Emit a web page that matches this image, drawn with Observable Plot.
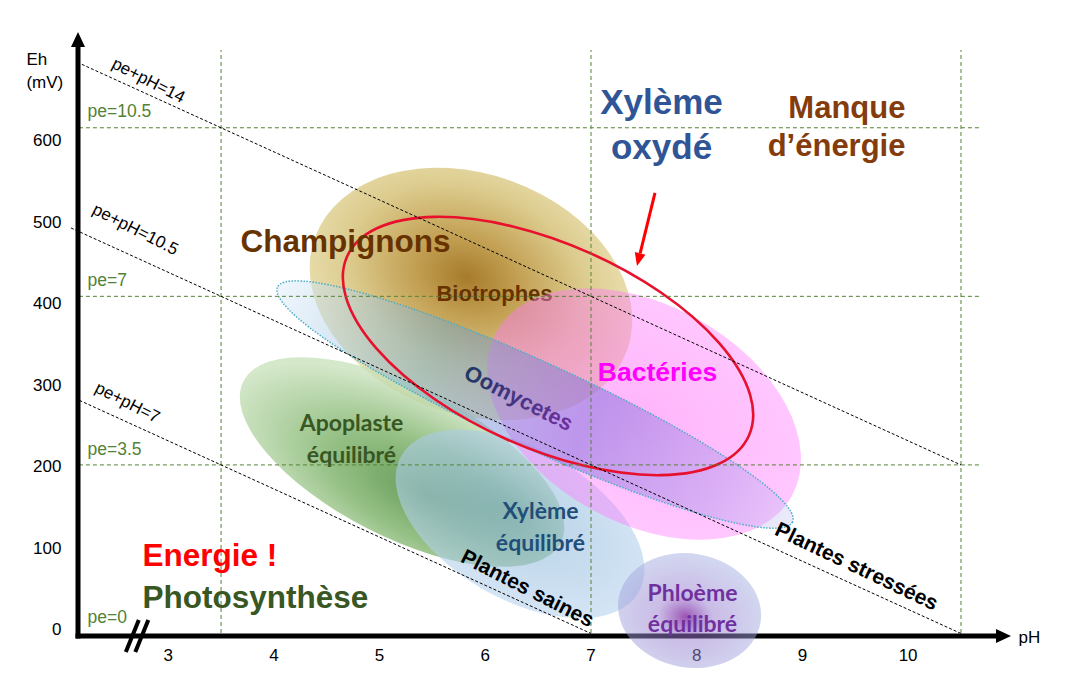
<!DOCTYPE html>
<html>
<head>
<meta charset="utf-8">
<script src="https://cdn.jsdelivr.net/npm/d3@7"></script>
<script src="https://cdn.jsdelivr.net/npm/@observablehq/plot@0.6"></script>
<style>
  html, body { margin: 0; padding: 0; background: #fff; }
  #chart svg { display: block; }
</style>
</head>
<body>
<div id="chart"></div>
<script>
// ---------- data ----------
const MV_PER_PE = 59.16;              // Eh (mV) per pe unit
const PH_MIN = 2.1514, PH_MAX = 10.978;
const EH_MIN = -3.7, EH_MAX = 738.2;
const BREAK_PH = 2.71;

const ehTicks = [0, 100, 200, 300, 400, 500, 600];
const phTicks = [3, 4, 5, 6, 7, 8, 9, 10];

const peLines = [3.5, 7, 10.5];
const peLabelValues = [0, 3.5, 7, 10.5];
const peLabels = ["pe=0", "pe=3.5", "pe=7", "pe=10.5"];
const phLines = [3.5, 7, 10.5];

const diagSums = [14, 10.5, 7];
const diagStartPH = [2.14, 2.08, 2.16];
const diagEndPH = [10.5, 10.5, 7];
const diagLabels = ["pe+pH=14", "pe+pH=10.5", "pe+pH=7"];
const diagLabelPH = [2.814, 2.691, 2.615];
const diagLabelEh = [679.3, 496.3, 283.7];

// zones (ellipses): centre, semi-axes (pH units / mV units), tilt
const zoneNames = ["Champignons", "Apoplaste", "XylemeEq", "Bacteries", "Oomycetes", "XylemeOx", "Phloeme"];
const zonePH    = [5.869, 5.217, 6.333, 7.506, 6.475, 6.598, 7.937];
const zoneEh    = [416.4, 210.0, 133.9, 269.0, 280.6, 352.5, 27.6];
const zoneRPH   = [1.570, 1.684, 1.296, 1.599, 2.677, 2.081, 0.681];
const zoneREh   = [147.4, 92.1, 92.1, 133.9, 52.8, 125.3, 70.0];
const zoneAngle = [20, 27, 30, 29, 24.5, 24, 10];

// annotation labels
const labelText = ["Champignons", "Biotrophes", "Bactéries", "Oomycetes",
  "Apoplaste\néquilibré", "Xylème\néquilibré", "Phloème\néquilibré",
  "Xylème\noxydé", "Manque\nd’énergie", "Energie !", "Photosynthèse",
  "Plantes saines", "Plantes stressées"];
const labelPH = [4.677, 6.087, 7.629, 6.314, 4.734, 6.522, 7.960, 7.667, 9.975, 2.757, 2.757, 6.399, 9.512];
const labelEh = [481.5, 417.6, 320.6, 288.7, 242.0, 133.9, 33.2, 628.0, 624.5, 95.8, 44.2, 55.3, 82.3];

const arrowFrom = [7.610, 540.5];
const arrowTo = [7.440, 450.8];

// ---------- styles ----------
const FONT = "'Liberation Sans', Arial, Helvetica, sans-serif";
const FONT_C = "Lato, 'Liberation Sans', Arial, sans-serif";
const GRID = "#548235";

const zoneStyle = {
  Champignons: {fill: "url(#gTan)"},
  Apoplaste: {fill: "url(#gGreen)"},
  XylemeEq: {fill: "url(#gBlue)"},
  Bacteries: {fill: "url(#gPink)"},
  Oomycetes: {fill: "url(#gOomy)", stroke: "#4bacc6", sw: 1.5, dash: "1.5,1.5"},
  XylemeOx: {fill: "none", stroke: "#e8112d", sw: 2.6},
  Phloeme: {fill: "url(#gPhl)"}
};

const gradients = [
  {id: "gTan", type: "radial", cx: 0.47, cy: 0.44, r: 0.56, stops: [[0, "#a77b2b", 1], [0.3, "#c3a155", 1], [0.65, "#dccb8d", 1], [1, "#ece3b7", 1]]},
  {id: "gGreen", type: "radial", cx: 0.6, cy: 0.62, r: 0.62, stops: [[0, "rgb(85,145,70)", 0.9], [0.5, "rgb(125,178,105)", 0.8], [1, "rgb(198,224,184)", 0.75]]},
  {id: "gBlue", type: "radial", cx: 0.45, cy: 0.45, r: 0.55, stops: [[0, "rgb(130,175,212)", 0.6], [1, "rgb(182,210,237)", 0.6]]},
  {id: "gPink", type: "radial", cx: 0.5, cy: 0.5, r: 0.5, stops: [[0, "rgb(255,90,245)", 0.45], [1, "rgb(255,120,255)", 0.42]]},
  {id: "gOomy", type: "linear", stops: [[0, "rgb(225,238,250)", 0.5], [0.3, "rgb(105,165,210)", 0.45], [0.6, "rgb(110,100,215)", 0.45], [0.85, "rgb(150,140,230)", 0.35], [1, "rgb(190,190,240)", 0.3]]},
  {id: "gPhl", type: "radial", cx: 0.48, cy: 0.56, r: 0.55, stops: [[0, "rgb(130,40,160)", 0.8], [0.35, "rgb(150,120,205)", 0.5], [1, "rgb(165,175,225)", 0.5]]},
  {id: "gOomText", type: "linear", stops: [[0, "#1f3864", 1], [1, "#6f30a0", 1]]}
];

// ---------- custom marks ----------
const defsMark = () => {
  const g = d3.create("svg:g");
  const defs = g.append("defs");
  for (const gr of gradients) {
    const el = defs.append(gr.type === "radial" ? "radialGradient" : "linearGradient").attr("id", gr.id);
    if (gr.type === "radial") el.attr("cx", gr.cx).attr("cy", gr.cy).attr("r", gr.r);
    else el.attr("x1", 0).attr("y1", 0).attr("x2", 1).attr("y2", 0);
    for (const [o, c, a] of gr.stops) el.append("stop").attr("offset", o).attr("stop-color", c).attr("stop-opacity", a);
  }
  return g.node();
};

function zoneMark(list) {
  return (index, scales) => {
    const {x, y} = scales;
    const g = d3.create("svg:g");
    for (const name of list) {
      const i = zoneNames.indexOf(name);
      const cx = x(zonePH[i]), cy = y(zoneEh[i]);
      const rx = Math.abs(x(zonePH[i] + zoneRPH[i]) - cx);
      const ry = Math.abs(y(zoneEh[i] + zoneREh[i]) - cy);
      const st = zoneStyle[name];
      const e = g.append("ellipse").attr("cx", 0).attr("cy", 0).attr("rx", rx).attr("ry", ry)
        .attr("transform", `translate(${cx},${cy}) rotate(${zoneAngle[i]})`)
        .attr("fill", st.fill).attr("stroke", st.stroke || "none");
      if (st.sw) e.attr("stroke-width", st.sw);
      if (st.dash) e.attr("stroke-dasharray", st.dash);
    }
    return g.node();
  };
}

const axesMark = (index, scales) => {
  const {x, y} = scales;
  const g = d3.create("svg:g");
  const x0 = x(PH_MIN), x1 = x(PH_MAX), y0 = y(EH_MIN), y1 = y(EH_MAX);
  g.append("line").attr("x1", x0).attr("y1", y0 + 2.5).attr("x2", x0).attr("y2", y1 + 12)
    .attr("stroke", "#000").attr("stroke-width", 5);
  g.append("path").attr("d", `M${x0 - 7},${y1 + 15}L${x0},${y1}L${x0 + 7},${y1 + 15}Z`).attr("fill", "#000");
  g.append("line").attr("x1", x0 - 2.5).attr("y1", y0).attr("x2", x1 - 12).attr("y2", y0)
    .attr("stroke", "#000").attr("stroke-width", 5);
  g.append("path").attr("d", `M${x1 - 15},${y0 - 7}L${x1},${y0}L${x1 - 15},${y0 + 7}Z`).attr("fill", "#000");
  const bx = x(BREAK_PH);
  for (const off of [-4.75, 4.75]) {
    g.append("line").attr("x1", bx + off + 6.5).attr("y1", y0 - 16).attr("x2", bx + off - 6.5).attr("y2", y0 + 16)
      .attr("stroke", "#000").attr("stroke-width", 4);
  }
  return g.node();
};

const arrowMark = (index, scales) => {
  const {x, y} = scales;
  const g = d3.create("svg:g");
  const ax = x(arrowFrom[0]), ay = y(arrowFrom[1]), bx = x(arrowTo[0]), by = y(arrowTo[1]);
  const dx = bx - ax, dy = by - ay, L = Math.hypot(dx, dy), ux = dx / L, uy = dy / L;
  const hl = 13, hw = 5.5;
  const baseX = bx - ux * hl, baseY = by - uy * hl;
  g.append("line").attr("x1", ax).attr("y1", ay).attr("x2", baseX).attr("y2", baseY)
    .attr("stroke", "#ff0000").attr("stroke-width", 3);
  g.append("path").attr("d", `M${bx},${by}L${baseX - uy * hw},${baseY + ux * hw}L${baseX + uy * hw},${baseY - ux * hw}Z`)
    .attr("fill", "#ff0000");
  return g.node();
};

const T = (i, o) => Plot.text([i], {
  x: j => labelPH[j], y: j => labelEh[j], text: j => labelText[j],
  fontFamily: FONT, fontWeight: "bold", ...o
});

// ---------- plot ----------
const chart = Plot.plot({
  width: 1066, height: 685,
  marginLeft: 78, marginRight: 55, marginTop: 32, marginBottom: 49,
  x: {domain: [PH_MIN, PH_MAX], axis: null},
  y: {domain: [EH_MIN, EH_MAX], axis: null},
  style: {background: "#fff", overflow: "visible"},
  marks: [
    defsMark,
    zoneMark(["Champignons"]),
    T(1, {fill: "#663300", fontSize: 22}),
    zoneMark(["Apoplaste", "XylemeEq", "Bacteries", "Oomycetes"]),
    T(3, {fill: "url(#gOomText)", fontSize: 22, rotate: 27}),
    zoneMark(["XylemeOx"]),
    // grid
    Plot.ruleX(phLines, {x: d => d, y1: () => 0, y2: () => 716, stroke: GRID, strokeDasharray: "4,3", strokeWidth: 1}),
    Plot.ruleY(peLines, {y: d => d * MV_PER_PE, x1: () => 2.16, x2: () => 10.68, stroke: GRID, strokeDasharray: "4,3", strokeWidth: 1}),
    Plot.link(diagSums, {
      x1: (d, i) => diagStartPH[i], y1: (d, i) => (d - diagStartPH[i]) * MV_PER_PE,
      x2: (d, i) => diagEndPH[i], y2: (d, i) => (d - diagEndPH[i]) * MV_PER_PE,
      stroke: "#000", strokeDasharray: "3,2", strokeWidth: 1
    }),
    axesMark,
    // tick labels
    Plot.text(ehTicks, {x: () => 1.99, y: d => d, text: d => String(d), textAnchor: "end", dy: -4, fontSize: 17, fontFamily: FONT, fill: "#000"}),
    Plot.text(phTicks, {x: d => d, y: () => -27, text: d => String(d), fontSize: 17, fontFamily: FONT, fill: "#000"}),
    Plot.text(["Eh\n(mV)"], {x: () => 1.659, y: () => 692.8, text: d => d, textAnchor: "start", lineHeight: 1.3, fontSize: 17, fontFamily: FONT, fill: "#000"}),
    Plot.text(["pH"], {x: () => 11.045, y: () => -4.9, text: d => d, textAnchor: "start", fontSize: 17, fontFamily: FONT, fill: "#000"}),
    Plot.text(peLabelValues, {x: () => 2.237, y: d => d * MV_PER_PE, text: (d, i) => peLabels[i], textAnchor: "start", dy: -16, fontSize: 17.5, fontFamily: FONT, fill: GRID}),
    Plot.text(diagLabels, {x: (d, i) => diagLabelPH[i], y: (d, i) => diagLabelEh[i], text: d => d, rotate: 27, fontSize: 17, fontFamily: FONT, fill: "#000"}),
    // phloem on top of axis
    zoneMark(["Phloeme"]),
    // labels
    T(0, {fill: "#663300", fontSize: 31.5}),
    T(2, {fill: "#ff00ff", fontSize: 26.5}),
    T(4, {fill: "#385723", fontSize: 23, fontFamily: FONT_C, lineHeight: 1.4}),
    T(5, {fill: "#1f4e79", fontSize: 23, fontFamily: FONT_C, lineHeight: 1.4}),
    T(6, {fill: "#7030a0", fontSize: 23, fontFamily: FONT_C, lineHeight: 1.35}),
    T(7, {fill: "#2f5597", fontSize: 35, lineHeight: 1.29}),
    T(8, {fill: "#843c0c", fontSize: 31, lineHeight: 1.23, textAnchor: "end"}),
    T(9, {fill: "#ff0000", fontSize: 31.5, textAnchor: "start"}),
    T(10, {fill: "#385723", fontSize: 31.5, textAnchor: "start"}),
    T(11, {fill: "#000", fontSize: 21, rotate: 27}),
    T(12, {fill: "#000", fontSize: 21, rotate: 25.5}),
    arrowMark
  ]
});
document.getElementById("chart").appendChild(chart);
</script>
</body>
</html>
